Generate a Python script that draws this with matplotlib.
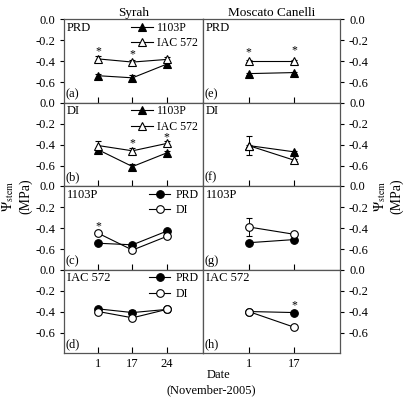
import numpy as np
import matplotlib
matplotlib.use("Agg")
import matplotlib.pyplot as plt
from matplotlib.lines import Line2D

plt.rcParams['font.family'] = ['Liberation Serif', 'DejaVu Serif']
plt.rcParams['mathtext.fontset'] = 'stix'
plt.rcParams['axes.unicode_minus'] = False
plt.rcParams['font.size'] = 8.5

# dates (November-2005)
syrah_dates = ["1", "17", "24"]
mosc_dates = ["1", "17"]

# Syrah (a) PRD and (b) DI, by rootstock
a_1103 = [-0.54, -0.56, -0.43]
a_1103_err = [0.02, 0.03, 0.03]
a_iac = [-0.38, -0.41, -0.385]
a_iac_err = [0.03, 0.02, 0.02]
b_1103 = [-0.45, -0.61, -0.48]
b_1103_err = [0.02, 0.02, 0.02]
b_iac = [-0.41, -0.46, -0.39]
b_iac_err = [0.04, 0.03, 0.02]
# Syrah (c) 1103P and (d) IAC 572, by irrigation
c_prd = [-0.545, -0.56, -0.43]
c_di = [-0.45, -0.61, -0.48]
d_prd = [-0.375, -0.41, -0.38]
d_di = [-0.40, -0.46, -0.38]
d_err = [0.02, 0.02, 0.02]

# Moscato Canelli (e)-(h)
e_1103 = [-0.52, -0.51]
e_iac = [-0.40, -0.40]
f_1103 = [-0.41, -0.47]
f_iac = [-0.41, -0.55]
f_iac_err = [0.09, 0.01]
g_prd = [-0.54, -0.51]
g_di = [-0.39, -0.46]
g_di_err = [0.09, 0.01]
h_prd = [-0.40, -0.41]
h_di = [-0.40, -0.55]

# significance stars: (panel, date index, y)
stars = [("a", 0, -0.31), ("a", 1, -0.34), ("b", 1, -0.39), ("b", 2, -0.33),
         ("c", 0, -0.38), ("e", 0, -0.32), ("e", 1, -0.30), ("h", 1, -0.34)]

fig = plt.figure(figsize=(4.06, 4.09), dpi=100)
W, H = 406, 409
tops = [19, 102.5, 186, 269.5]
ph = 83.5
axes = {}
names = [["a", "e"], ["b", "f"], ["c", "g"], ["d", "h"]]
for r in range(4):
    for c in range(2):
        x0 = 64 if c == 0 else 203
        w = 139 if c == 0 else 137
        ax = fig.add_axes([x0 / W, (H - tops[r] - ph) / H, w / W, ph / H])
        axes[names[r][c]] = ax

lw = 0.8
def series(ax, x, y, err, marker, filled):
    ax.errorbar(x, y, yerr=err, color='black', lw=lw, marker=marker, ms=5.5,
                mfc='black' if filled else 'white', mec='black', mew=0.8,
                capsize=2, elinewidth=0.7)

def handle(marker, filled):
    return Line2D([], [], color='black', lw=lw, marker=marker, ms=5.5,
                  mfc='black' if filled else 'white', mec='black', mew=0.8)

xs = np.arange(1, 4)
xm = np.arange(1, 3)
z3 = [0.01] * 3
z2 = [0.01] * 2

series(axes["a"], xs, a_1103, a_1103_err, '^', True)
series(axes["a"], xs, a_iac, a_iac_err, '^', False)
series(axes["b"], xs, b_1103, b_1103_err, '^', True)
series(axes["b"], xs, b_iac, b_iac_err, '^', False)
series(axes["c"], xs, c_prd, z3, 'o', True)
series(axes["c"], xs, c_di, z3, 'o', False)
series(axes["d"], xs, d_prd, d_err, 'o', True)
series(axes["d"], xs, d_di, d_err, 'o', False)
series(axes["e"], xm, e_1103, z2, '^', True)
series(axes["e"], xm, e_iac, z2, '^', False)
series(axes["f"], xm, f_1103, z2, '^', True)
series(axes["f"], xm, f_iac, f_iac_err, '^', False)
series(axes["g"], xm, g_prd, z2, 'o', True)
series(axes["g"], xm, g_di, g_di_err, 'o', False)
series(axes["h"], xm, h_prd, z2, 'o', True)
series(axes["h"], xm, h_di, z2, 'o', False)

for p, i, y in stars:
    axes[p].text(i + 1, y, "*", ha='center', va='center', fontsize=8.5)

titles = {"a": "PRD", "b": "DI", "c": "1103P", "d": "IAC 572",
          "e": "PRD", "f": "DI", "g": "1103P", "h": "IAC 572"}
for k, ax in axes.items():
    left = k in "abcd"
    ax.set_ylim(-0.795, 0)
    ax.set_yticks([0, -0.2, -0.4, -0.6])
    if left:
        ax.set_xlim(0, 4.06)
        ax.set_xticks(xs)
        ax.set_xticklabels(syrah_dates)
        ax.tick_params(axis='y', direction='out', length=3, left=True, right=False)
    else:
        ax.set_xlim(0, 3)
        ax.set_xticks(xm)
        ax.set_xticklabels(mosc_dates)
        ax.yaxis.tick_right()
        ax.tick_params(axis='y', direction='out', length=3, left=False, right=True)
    ax.tick_params(axis='x', direction='in', length=4, top=False, labelsize=9)
    ax.tick_params(axis='y', labelsize=9)
    if k not in "dh":
        ax.tick_params(axis='x', labelbottom=False)
    ax.set_yticklabels(["0.0", "-0.2", "-0.4", "-0.6"])
    for s in ax.spines.values():
        s.set_color('#555555')
        s.set_linewidth(0.9)
    ax.text(0.02, 0.97, titles[k], transform=ax.transAxes, ha='left', va='top', fontsize=9)
    ax.text(0.01, 0.03, "(%s)" % k, transform=ax.transAxes, ha='left', va='bottom', fontsize=9)

for k in "ab":
    axes[k].legend([handle('^', True), handle('^', False)], ["1103P", "IAC 572"],
                   loc='upper right', bbox_to_anchor=(1.0, 1.025), frameon=False,
                   handlelength=1.8, fontsize=8.5,
                   borderaxespad=0.0, labelspacing=0.3, handletextpad=0.4)
for k in "cd":
    axes[k].legend([handle('o', True), handle('o', False)], ["PRD", "DI"],
                   loc='upper right', bbox_to_anchor=(1.0, 1.025), frameon=False,
                   handlelength=1.8, fontsize=8.5,
                   borderaxespad=0.0, labelspacing=0.3, handletextpad=0.4)

axes["a"].set_title("Syrah", fontsize=9.5, pad=2)
axes["e"].set_title("Moscato Canelli", fontsize=9.5, pad=2)

fig.text(0.04, 0.52, "$\\Psi_{\\rm stem}$\n(MPa)", rotation=90, ha='center', va='center',
         fontsize=10, multialignment='center')
fig.text(0.955, 0.52, "$\\Psi_{\\rm stem}$\n(MPa)", rotation=90, ha='center', va='center',
         fontsize=10, multialignment='center')
fig.text(0.537, 0.083, "Date", ha='center', va='center', fontsize=9)
fig.text(0.52, 0.045, "(November-2005)", ha='center', va='center', fontsize=9)

fig.savefig("out.png", dpi=100)
